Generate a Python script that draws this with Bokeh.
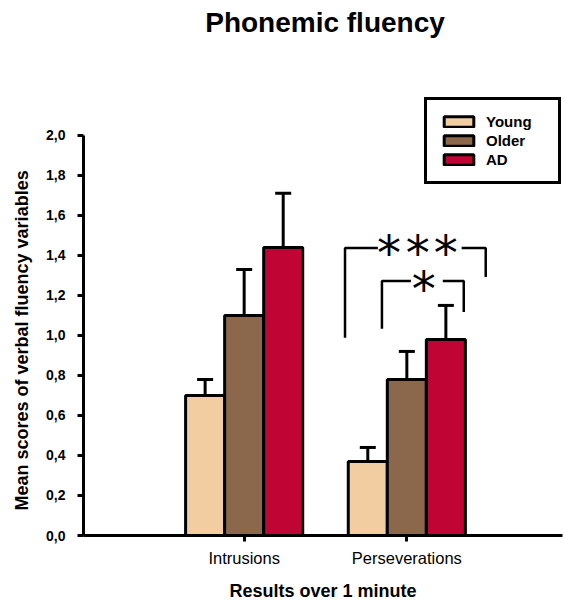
from bokeh.plotting import figure
from bokeh.models import (ColumnDataSource, FixedTicker, CustomJSTickFormatter,
                          Legend, LegendItem, Title, Label)
from bokeh.core.properties import value
from bokeh.embed import file_html
from bokeh.resources import INLINE

# ---- data -------------------------------------------------------------
categories = ["Intrusions", "Perseverations"]
groups = ["Young", "Older", "AD"]

young_mean = [0.70, 0.37]
young_sem = [0.08, 0.07]
older_mean = [1.10, 0.78]
older_sem = [0.23, 0.14]
ad_mean = [1.44, 0.98]
ad_sem = [0.27, 0.17]

y_ticks = [0.0, 0.2, 0.4, 0.6, 0.8, 1.0, 1.2, 1.4, 1.6, 1.8, 2.0]

# significance brackets over the Perseverations group (*** and *)
bracket_xs = [[1.62, 1.62, 1.822], [2.337, 2.485, 2.485],
              [1.847, 1.847, 2.025], [2.221, 2.35, 2.35]]
bracket_ys = [[0.988, 1.437, 1.437], [1.437, 1.437, 1.292],
              [1.033, 1.272, 1.272], [1.272, 1.272, 1.117]]
star_x = [1.890, 2.067, 2.239, 2.104]
star_y = [1.444, 1.444, 1.444, 1.262]

# ---- styling ----------------------------------------------------------
colors = ["#F2CDA2", "#8B674B", "#C00434"]
offsets = [-0.24, 0.0, 0.24]
bar_width = 0.24
FONT = "Liberation Sans"

# the plotting area reaches the top edge so the heading and legend sit inside it
p = figure(width=564, height=603, x_range=(0.0123, 2.957), y_range=(0, 2.674),
           output_backend="svg", toolbar_location=None,
           min_border_left=82, min_border_right=2,
           min_border_top=0, min_border_bottom=67)

p.xgrid.visible = False
p.ygrid.visible = False
p.outline_line_color = None

p.add_layout(Label(x=1.497, y=2.564, text="Phonemic fluency",
                   text_align="center", text_baseline="middle",
                   text_font=FONT, text_font_size="28px",
                   text_font_style="bold", text_color="black"))

means = [young_mean, older_mean, ad_mean]
sems = [young_sem, older_sem, ad_sem]

legend_items = []
for name, mean, sem, color, off in zip(groups, means, sems, colors, offsets):
    src = ColumnDataSource(dict(
        x=[i + 1 + off for i in range(len(categories))],
        top=mean,
        upper=[m + s for m, s in zip(mean, sem)],
    ))
    r = p.vbar(x="x", top="top", bottom=0, width=bar_width, source=src,
               fill_color=color, line_color="black", line_width=3)
    p.segment(x0="x", y0="top", x1="x", y1="upper", source=src,
              line_color="black", line_width=3)
    p.scatter(x="x", y="upper", marker="dash", size=16, source=src,
              line_color="black", line_width=3)
    legend_items.append(LegendItem(label=name, renderers=[r]))

# significance brackets and stars
p.multi_line(xs=bracket_xs, ys=bracket_ys, line_color="black", line_width=2.5)
p.text(x=star_x, y=star_y, text=["*"] * len(star_x),
       text_font=value("DejaVu Sans"), text_font_size="48px",
       text_align="center", text_baseline="alphabetic", y_offset=6,
       text_color="black")

# axes
xa = p.xaxis[0]
xa.ticker = FixedTicker(ticks=[1, 2])
xa.major_label_overrides = {1: categories[0], 2: categories[1]}
xa.axis_label = "Results over 1 minute"
xa.axis_line_width = 3
xa.major_tick_line_width = 3
xa.major_tick_in = 0
xa.major_tick_out = 6
xa.minor_tick_line_color = None
xa.major_label_text_font = FONT
xa.major_label_text_font_size = "16.5px"
xa.major_label_text_color = "black"
xa.major_label_standoff = 7
xa.axis_label_text_font = FONT
xa.axis_label_text_font_size = "18px"
xa.axis_label_text_font_style = "bold"
xa.axis_label_text_color = "black"
xa.axis_label_standoff = 11

ya = p.yaxis[0]
ya.ticker = FixedTicker(ticks=y_ticks)
ya.formatter = CustomJSTickFormatter(code="return tick.toFixed(1).replace('.', ',');")
ya.bounds = (0, 2)
ya.axis_line_width = 3
ya.major_tick_line_width = 3
ya.major_tick_in = 0
ya.major_tick_out = 6
ya.minor_tick_line_color = None
ya.major_label_text_font = FONT
ya.major_label_text_font_size = "14px"
ya.major_label_text_font_style = "bold"
ya.major_label_text_color = "black"
ya.major_label_standoff = 12

# y axis title, anchored at the bottom of the value axis
y_title = Title(text="Mean scores of verbal fluency variables", align="left",
                offset=25, vertical_align="middle", standoff=21,
                text_font=FONT, text_font_size="18px", text_font_style="bold",
                text_color="black")
p.add_layout(y_title, "left")

legend = Legend(items=legend_items, location=(341, 351),
                glyph_width=37, glyph_height=13, label_height=13,
                label_width=59, spacing=2, padding=13, label_standoff=9,
                label_text_font=FONT, label_text_font_style="bold",
                label_text_font_size="15px", label_text_color="black",
                border_line_color="black", border_line_width=3,
                border_line_alpha=1.0,
                background_fill_color="white", margin=0)
p.add_layout(legend)

open("out.html", "w").write(file_html(p, INLINE))
